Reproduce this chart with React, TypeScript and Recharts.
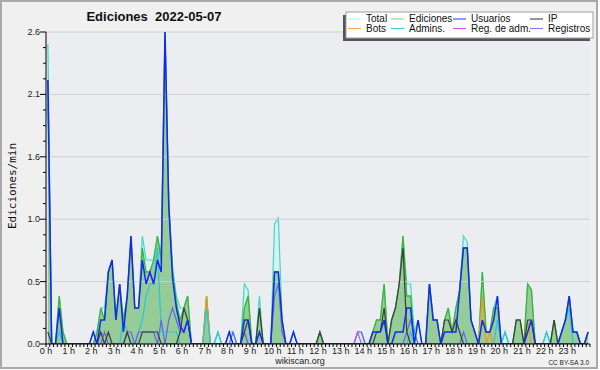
import { ComposedChart, Area, Line, XAxis, YAxis, CartesianGrid, ReferenceLine } from 'recharts';

const FONT = '"Liberation Sans", Arial, sans-serif';

const hourLabels = [
  '0 h', '1 h', '2 h', '3 h', '4 h', '5 h', '6 h', '7 h', '8 h', '9 h', '10 h', '11 h',
  '12 h', '13 h', '14 h', '15 h', '16 h', '17 h', '18 h', '19 h', '20 h', '21 h', '22 h', '23 h'
];
const yTickLabels = ['0.0', '0.5', '1.0', '1.6', '2.1', '2.6'];

// edits per minute, one value per 10-minute slot (144 slots)
const total = [
  2.5, 0, 0, 0.4, 0.1, 0, 0, 0, 0, 0, 0, 0,
  0.1, 0.1, 0.3, 0.3, 0.6, 0.7, 0.2, 0.5, 0.2, 0.4, 0.9, 0.3,
  0.3, 0.9, 0.7, 0.7, 0.7, 0.9, 0.75, 2.6, 1.2, 0.65, 0.4, 0.3,
  0.3, 0.4, 0, 0, 0, 0, 0.4, 0, 0, 0.1, 0, 0,
  0.1, 0.1, 0, 0, 0.5, 0.45, 0, 0, 0.4, 0, 0, 0,
  1.0, 1.05, 0.2, 0, 0, 0.1, 0, 0, 0, 0, 0, 0,
  0.1, 0, 0, 0, 0, 0, 0, 0, 0, 0, 0.1, 0.1,
  0, 0, 0.1, 0.2, 0.2, 0.5, 0, 0.2, 0.3, 0.5, 0.9, 0.5,
  0.5, 0.1, 0.2, 0, 0, 0.5, 0.2, 0.2, 0, 0.2, 0.3, 0.1,
  0.3, 0.45, 0.9, 0.85, 0.2, 0.1, 0, 0.6, 0.1, 0.1, 0.3, 0.4,
  0, 0.1, 0, 0, 0.2, 0.2, 0, 0.5, 0.45, 0, 0, 0,
  0.1, 0, 0.2, 0, 0.1, 0.2, 0.4, 0.1, 0.1, 0, 0, 0.1
];
const ediciones = [
  2.2, 0, 0, 0.4, 0.1, 0, 0, 0, 0, 0, 0, 0,
  0, 0.1, 0.3, 0.2, 0.6, 0.7, 0.2, 0.5, 0.2, 0.4, 0.85, 0.3,
  0.3, 0.8, 0.6, 0.6, 0.7, 0.9, 0.7, 2.6, 1.15, 0.6, 0.35, 0.2,
  0.3, 0.4, 0, 0, 0, 0, 0.4, 0, 0, 0, 0, 0,
  0, 0, 0, 0, 0.3, 0.4, 0, 0, 0.3, 0, 0, 0,
  0.6, 0.6, 0.1, 0, 0, 0, 0, 0, 0, 0, 0, 0,
  0.1, 0, 0, 0, 0, 0, 0, 0, 0, 0, 0, 0,
  0, 0, 0.1, 0.2, 0.2, 0.5, 0, 0.2, 0.3, 0.5, 0.9, 0.4,
  0.4, 0, 0, 0, 0, 0.5, 0.2, 0.2, 0, 0.2, 0.3, 0.1,
  0.3, 0.45, 0.8, 0.8, 0.2, 0.1, 0, 0.6, 0.1, 0.1, 0.3, 0.3,
  0, 0, 0, 0, 0.2, 0.2, 0, 0.5, 0.45, 0, 0, 0,
  0, 0, 0.2, 0, 0.1, 0.2, 0.4, 0.1, 0.1, 0, 0, 0.1
];
const usuarios = [
  2.2, 0, 0, 0.3, 0, 0, 0, 0, 0, 0, 0, 0,
  0.1, 0, 0.2, 0.2, 0.6, 0.7, 0.2, 0.5, 0.1, 0.4, 0.9, 0.3,
  0.3, 0.7, 0.5, 0.6, 0.5, 0.7, 0.6, 2.6, 1.15, 0.55, 0.3, 0.15,
  0.1, 0.2, 0, 0, 0, 0, 0, 0, 0, 0, 0, 0,
  0.1, 0, 0, 0, 0.2, 0.2, 0, 0, 0.1, 0, 0, 0,
  0.6, 0.6, 0.2, 0, 0, 0.1, 0, 0, 0, 0, 0, 0,
  0, 0, 0, 0, 0, 0, 0, 0, 0, 0, 0, 0,
  0, 0, 0.1, 0.1, 0.1, 0.2, 0, 0, 0.1, 0.1, 0.1, 0.3,
  0.3, 0, 0.2, 0, 0, 0.5, 0.2, 0.2, 0, 0.1, 0.1, 0.1,
  0.1, 0.45, 0.8, 0.8, 0.2, 0.1, 0, 0.2, 0.1, 0.1, 0.2, 0.4,
  0, 0, 0, 0, 0, 0, 0, 0.1, 0.2, 0, 0, 0,
  0, 0, 0, 0, 0.1, 0.2, 0.4, 0.1, 0.1, 0, 0, 0.1
];
const ip = [
  0.1, 0, 0, 0, 0, 0, 0, 0, 0, 0, 0, 0,
  0, 0, 0.1, 0, 0.1, 0, 0, 0, 0, 0.1, 0, 0,
  0, 0.1, 0.1, 0.1, 0.1, 0.1, 0, 0, 0, 0, 0, 0.1,
  0.3, 0.2, 0, 0, 0, 0, 0, 0, 0, 0, 0, 0,
  0, 0, 0, 0, 0.1, 0.2, 0, 0, 0.3, 0, 0, 0,
  0, 0, 0, 0, 0, 0, 0, 0, 0, 0, 0, 0,
  0.1, 0, 0, 0, 0, 0, 0, 0, 0, 0, 0, 0,
  0, 0, 0, 0.1, 0.1, 0.3, 0, 0.2, 0.3, 0.5, 0.8, 0.1,
  0, 0, 0, 0, 0, 0, 0, 0, 0, 0.2, 0.2, 0.1,
  0.2, 0.1, 0, 0, 0, 0, 0, 0, 0, 0, 0, 0,
  0, 0, 0, 0, 0.2, 0.2, 0, 0.2, 0.2, 0, 0, 0,
  0, 0, 0.2, 0, 0, 0, 0, 0, 0, 0, 0, 0
];
const bots = [
  0, 0, 0, 0, 0, 0, 0, 0, 0, 0, 0, 0,
  0, 0, 0, 0, 0, 0, 0, 0, 0, 0, 0, 0,
  0, 0, 0, 0, 0, 0, 0, 0, 0, 0, 0, 0,
  0, 0, 0, 0, 0, 0, 0.4, 0, 0, 0, 0, 0,
  0, 0, 0, 0, 0, 0, 0, 0, 0, 0, 0, 0,
  0, 0, 0, 0, 0, 0, 0, 0, 0, 0, 0, 0,
  0, 0, 0, 0, 0, 0, 0, 0, 0, 0, 0, 0,
  0, 0, 0, 0, 0, 0, 0, 0, 0, 0, 0, 0,
  0, 0, 0, 0, 0, 0, 0, 0, 0, 0, 0, 0,
  0, 0, 0, 0, 0, 0, 0, 0.4, 0, 0.1, 0, 0,
  0, 0, 0, 0, 0, 0, 0, 0.2, 0, 0, 0, 0,
  0, 0, 0, 0, 0, 0, 0, 0, 0, 0, 0, 0
];
const admins = [
  2.0, 0, 0, 0.1, 0, 0, 0, 0, 0, 0, 0, 0,
  0, 0, 0, 0, 0, 0, 0, 0, 0.2, 0.1, 0, 0,
  0.1, 0.2, 0.4, 0.5, 0.5, 0.8, 0.1, 0.1, 0.1, 0.1, 0.1, 0,
  0, 0, 0, 0, 0, 0, 0.3, 0, 0, 0.1, 0, 0,
  0, 0, 0, 0, 0.1, 0, 0, 0, 0, 0, 0, 0,
  0, 0, 0, 0, 0, 0, 0, 0, 0, 0, 0, 0,
  0, 0, 0, 0, 0, 0, 0, 0, 0, 0, 0, 0,
  0, 0, 0, 0, 0, 0, 0, 0, 0, 0, 0, 0,
  0.1, 0, 0, 0, 0, 0, 0, 0, 0, 0, 0, 0,
  0, 0, 0, 0, 0, 0, 0, 0, 0, 0, 0, 0.2,
  0, 0.1, 0, 0, 0, 0, 0, 0, 0, 0, 0, 0,
  0.1, 0, 0, 0, 0.1, 0.2, 0.3, 0, 0, 0, 0, 0
];
const regAdm = [
  0, 0, 0, 0, 0, 0, 0, 0, 0, 0, 0, 0,
  0, 0, 0, 0, 0, 0, 0, 0, 0, 0, 0, 0,
  0, 0, 0, 0, 0, 0, 0, 0, 0, 0, 0, 0,
  0, 0, 0, 0, 0, 0, 0, 0, 0, 0, 0, 0,
  0, 0, 0, 0, 0, 0, 0, 0, 0, 0, 0, 0,
  0, 0, 0, 0, 0, 0, 0, 0, 0, 0, 0, 0,
  0, 0, 0, 0, 0, 0, 0, 0, 0, 0, 0.1, 0,
  0, 0, 0, 0, 0, 0, 0, 0, 0, 0, 0, 0,
  0, 0, 0, 0, 0, 0, 0, 0, 0, 0, 0, 0,
  0, 0, 0, 0, 0, 0, 0, 0, 0, 0, 0, 0,
  0, 0, 0, 0, 0, 0, 0, 0, 0, 0, 0, 0,
  0, 0, 0, 0, 0, 0, 0, 0, 0, 0, 0, 0
];
const registros = [
  0, 0, 0, 0, 0, 0, 0, 0, 0, 0, 0, 0,
  0, 0, 0, 0.1, 0, 0, 0, 0, 0, 0.1, 0.1, 0,
  0.1, 0.1, 0.1, 0.1, 0.1, 0, 0.2, 0, 0.2, 0.3, 0.2, 0.1,
  0.1, 0.2, 0, 0, 0, 0, 0, 0, 0, 0, 0, 0,
  0, 0.1, 0, 0, 0.1, 0, 0, 0, 0, 0, 0, 0,
  0.4, 0.5, 0.1, 0, 0, 0, 0, 0, 0, 0, 0, 0,
  0, 0, 0, 0, 0, 0, 0, 0, 0, 0, 0.1, 0.1,
  0, 0, 0, 0, 0, 0, 0, 0, 0, 0, 0, 0.1,
  0.2, 0.1, 0, 0, 0, 0, 0, 0, 0, 0, 0, 0,
  0, 0, 0.1, 0, 0, 0, 0, 0, 0, 0, 0, 0,
  0, 0, 0, 0, 0, 0, 0, 0, 0, 0, 0, 0,
  0, 0, 0, 0, 0, 0, 0, 0, 0, 0, 0, 0
];

const data = total.map((t, i) => ({
  slot: i + 0.5,
  total: t,
  ediciones: ediciones[i],
  usuarios: usuarios[i],
  ip: ip[i],
  bots: bots[i],
  admins: admins[i],
  regAdm: regAdm[i],
  registros: registros[i]
}));

const xTicks = Array.from({ length: 145 }, (_, i) => i);
const yTicks = Array.from({ length: 21 }, (_, i) => i * 0.13);
const gridValues = yTicks.filter((_, i) => i > 0 && i % 4 === 0);

const legendItems = [
  { label: 'Total', color: '#b4e8e8', x: 348, row: 0 },
  { label: 'Ediciones', color: '#7fcf7f', x: 391, row: 0 },
  { label: 'Usuarios', color: '#3434e0', x: 453, row: 0 },
  { label: 'IP', color: '#303030', x: 530, row: 0 },
  { label: 'Bots', color: '#f4a640', x: 348, row: 1 },
  { label: 'Admins.', color: '#46c8dc', x: 391, row: 1 },
  { label: 'Reg. de adm.', color: '#d050e8', x: 453, row: 1 },
  { label: 'Registros', color: '#7c7cf4', x: 530, row: 1 }
];

function XTick(props: any) {
  const { x, y, payload } = props;
  const v = payload.value;
  const label = v % 6 === 0 ? hourLabels[v / 6] : undefined;
  return (
    <g>
      <line x1={x} y1={y} x2={x} y2={y + 3} stroke="#000" />
      {label && (
        <text x={x} y={y + 10} textAnchor="middle" fontSize={9} fontFamily={FONT} fill="#222">
          {label}
        </text>
      )}
    </g>
  );
}

function YTick(props: any) {
  const { x, y, index } = props;
  const major = index % 4 === 0;
  return (
    <g>
      <line x1={x - (major ? 6 : 3)} y1={y} x2={x} y2={y} stroke="#000" />
      {major && (
        <text x={x - 6} y={y + 3} textAnchor="end" fontSize={9} fontFamily={FONT} fill="#222">
          {yTickLabels[index / 4]}
        </text>
      )}
    </g>
  );
}

export default function App() {
  return (
    <div style={{ position: 'absolute', left: 0, top: 0, width: 600, height: 370, background: '#fff' }}>
      <div
        style={{
          position: 'absolute', left: 0, top: 0, width: 598, height: 369,
          boxSizing: 'border-box', border: '2px solid #a9a9a9', background: '#f0f0f0'
        }}
      />
      <div style={{ position: 'absolute', left: 0, top: 0 }}>
        <ComposedChart width={600} height={370} data={data} margin={{ top: 32, right: 10, bottom: 0, left: 0 }}>
          <CartesianGrid horizontal={false} vertical={false} fill="#ecedf0" />
          {gridValues.map(v => (
            <ReferenceLine key={v} y={v} stroke="#cfcfcf" strokeWidth={1} ifOverflow="extendDomain" />
          ))}
          <Area type="linear" dataKey="total" stroke="#3fd8c6" strokeWidth={1.2} fill="#d7f2ee" fillOpacity={1} dot={false} activeDot={false} isAnimationActive={false} />
          <Area type="linear" dataKey="ediciones" stroke="#3cb43c" strokeWidth={1.3} fill="#96cc98" fillOpacity={1} dot={false} activeDot={false} isAnimationActive={false} />
          <Line type="linear" dataKey="bots" stroke="#f09a20" strokeWidth={1.2} dot={false} isAnimationActive={false} />
          <Line type="linear" dataKey="admins" stroke="#2cc4dc" strokeWidth={1.2} dot={false} isAnimationActive={false} />
          <Line type="linear" dataKey="registros" stroke="#6464f0" strokeWidth={1.2} dot={false} isAnimationActive={false} />
          <Line type="linear" dataKey="regAdm" stroke="#d050e8" strokeWidth={1.2} dot={false} isAnimationActive={false} />
          <Line type="linear" dataKey="ip" stroke="#3c3c3c" strokeWidth={1.2} dot={false} isAnimationActive={false} />
          <Line type="linear" dataKey="usuarios" stroke="#1428ee" strokeWidth={1.5} dot={false} isAnimationActive={false} />
          <XAxis
            dataKey="slot"
            type="number"
            domain={[0, 144]}
            ticks={xTicks}
            interval={0}
            height={26}
            tickSize={0}
            tickMargin={0}
            tickLine={false}
            axisLine={{ stroke: '#000' }}
            tick={<XTick />}
            allowDataOverflow
          />
          <YAxis
            type="number"
            domain={[0, 2.6]}
            ticks={yTicks}
            interval={0}
            width={46}
            tickSize={0}
            tickMargin={0}
            tickLine={false}
            axisLine={{ stroke: '#000' }}
            tick={<YTick />}
            allowDataOverflow
          />
        </ComposedChart>
      </div>
      <svg width={600} height={370} style={{ position: 'absolute', left: 0, top: 0, pointerEvents: 'none' }}>
        <text x={154} y={21} textAnchor="middle" fontSize={13} fontWeight="bold" fontFamily={FONT} fill="#111" xmlSpace="preserve">
          Ediciones  2022-05-07
        </text>
        <text
          x={16}
          y={186}
          textAnchor="middle"
          fontSize={11}
          fontFamily='"DejaVu Sans Mono", monospace'
          fill="#111"
          transform="rotate(-90 16 186)"
        >
          Ediciones/min
        </text>
        <text x={300} y={364} textAnchor="middle" fontSize={9} fontFamily={FONT} fill="#222">
          wikiscan.org
        </text>
        <text x={589} y={365} textAnchor="end" fontSize={6.5} fontFamily={FONT} fill="#222">
          CC BY-SA 3.0
        </text>
        <rect x={343} y={15} width={247} height={26} fill="#555" />
        <rect x={346} y={12} width={247} height={26} fill="#fff" stroke="#a0a0a0" />
        {legendItems.map(item => {
          const cy = item.row === 0 ? 19 : 28.5;
          return (
            <g key={item.label}>
              <line x1={item.x} y1={cy} x2={item.x + 13} y2={cy} stroke={item.color} strokeWidth={1} />
              <text x={item.x + 18} y={cy + 3.3} fontSize={10} fontFamily={FONT} fill="#111">
                {item.label}
              </text>
            </g>
          );
        })}
      </svg>
    </div>
  );
}
